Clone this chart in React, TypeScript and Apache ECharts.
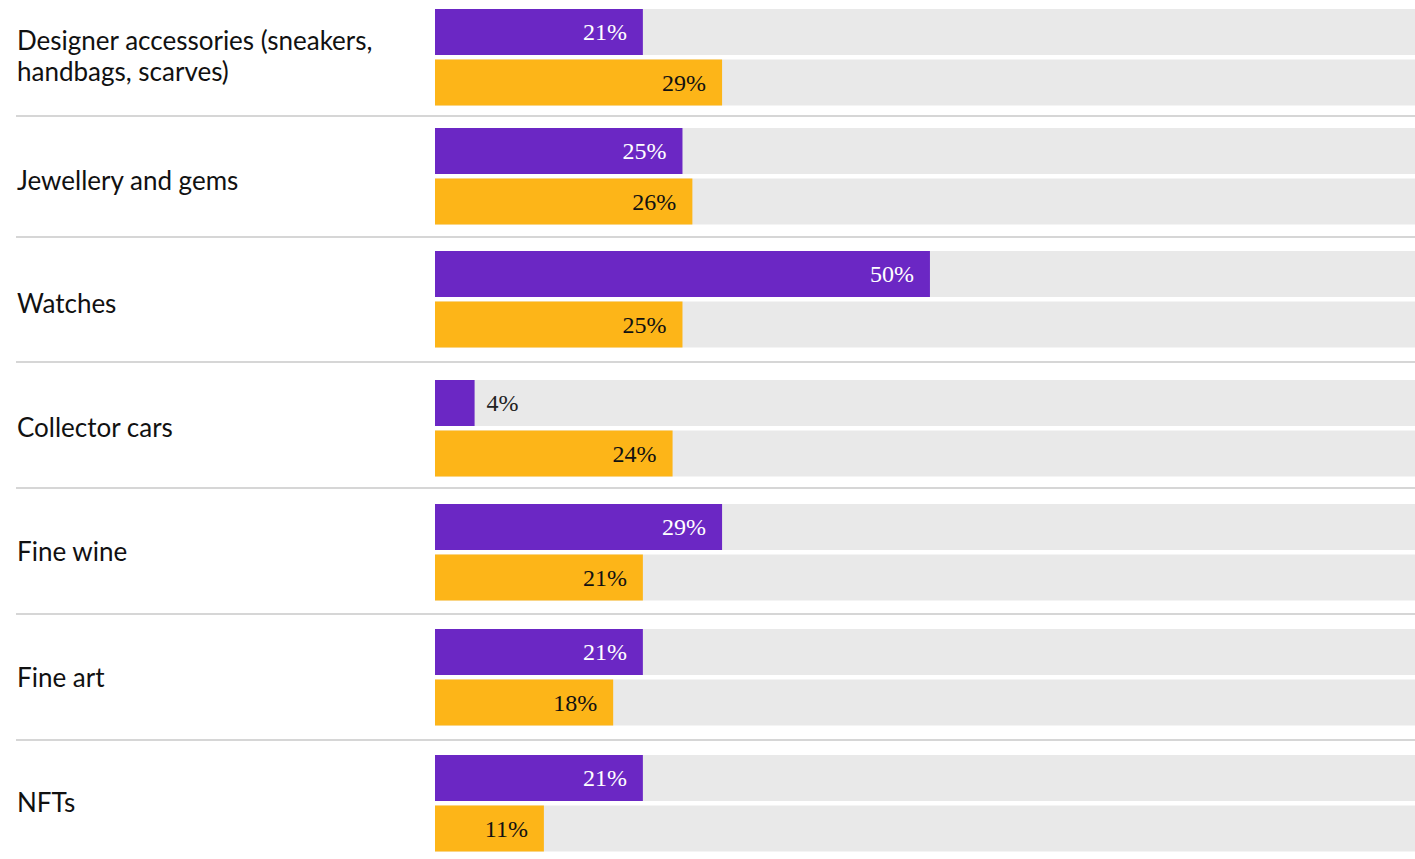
import React, { useEffect, useRef } from "react";
import * as echarts from "echarts";

const categories = [
  "Designer accessories (sneakers,\nhandbags, scarves)",
  "Jewellery and gems",
  "Watches",
  "Collector cars",
  "Fine wine",
  "Fine art",
  "NFTs",
];
const purpleValues = [21, 25, 50, 4, 29, 21, 21];
const yellowValues = [29, 26, 25, 24, 21, 18, 11];
const axisMax = 99;

// layout (pixel positions of each group's first bar top, label centres, and separators)
const groupTops = [9, 128, 251, 380, 504, 629, 755];
const labelCenters = [55, 180, 303, 427, 551, 677, 802];
const separatorYs = [116, 237, 362, 488, 614, 740];

const PURPLE = "#6b27c4";
const YELLOW = "#fdb518";
const GREY = "#e9e9e9";

export default function App() {
  const ref = useRef<HTMLDivElement>(null);
  useEffect(() => {
    if (!ref.current) return;
    const chart = echarts.init(ref.current, null, { renderer: "svg" });
    const barH = 46;
    const band = 50.5;
    const grids: any[] = [];
    const xAxes: any[] = [];
    const yAxes: any[] = [];
    const series: any[] = [];
    categories.forEach((cat, i) => {
      const top = groupTops[i] - (band - barH) / 2;
      grids.push({ left: 435, right: 0, top, height: band * 2 });
      xAxes.push({ gridIndex: i, type: "value", min: 0, max: axisMax, show: false });
      yAxes.push({
        gridIndex: i,
        type: "category",
        inverse: true,
        data: ["a", "b"],
        show: false,
      });
      const mk = (v: number, color: string, textColor: string) => {
        const small = v < 8;
        return {
          value: v,
          itemStyle: { color },
          label: small
            ? { position: "right", distance: 12, color: "#222" }
            : { position: "insideRight", distance: 16, color: textColor },
        };
      };
      series.push({
        type: "bar",
        xAxisIndex: i,
        yAxisIndex: i,
        barWidth: barH,
        showBackground: true,
        backgroundStyle: { color: GREY },
        data: [mk(purpleValues[i], PURPLE, "#ffffff"), mk(yellowValues[i], YELLOW, "#111111")],
        label: {
          show: true,
          formatter: "{c}%",
          fontFamily: "Liberation Serif",
          fontSize: 24,
        },
      });
    });
    const textGraphics = categories.map((cat, i) => ({
      type: "text",
      x: 17,
      y: labelCenters[i],
      style: {
        text: cat,
        fill: "#111",
        fontFamily: "Lato",
        fontSize: 26,
        lineHeight: 31,
        verticalAlign: "middle",
        align: "left",
      },
    }));
    const lines = separatorYs.map((y) => ({
      type: "line",
      shape: { x1: 16, y1: y, x2: 1415, y2: y },
      style: { stroke: "#d6d6d6", lineWidth: 2 },
    }));
    chart.setOption({
      animation: false,
      grid: grids,
      xAxis: xAxes,
      yAxis: yAxes,
      series,
      graphic: [...textGraphics, ...lines],
    });
    return () => chart.dispose();
  }, []);
  return (
    <div
      ref={ref}
      style={{ position: "absolute", left: 0, top: 0, width: 1415, height: 859, background: "#fff" }}
    />
  );
}
